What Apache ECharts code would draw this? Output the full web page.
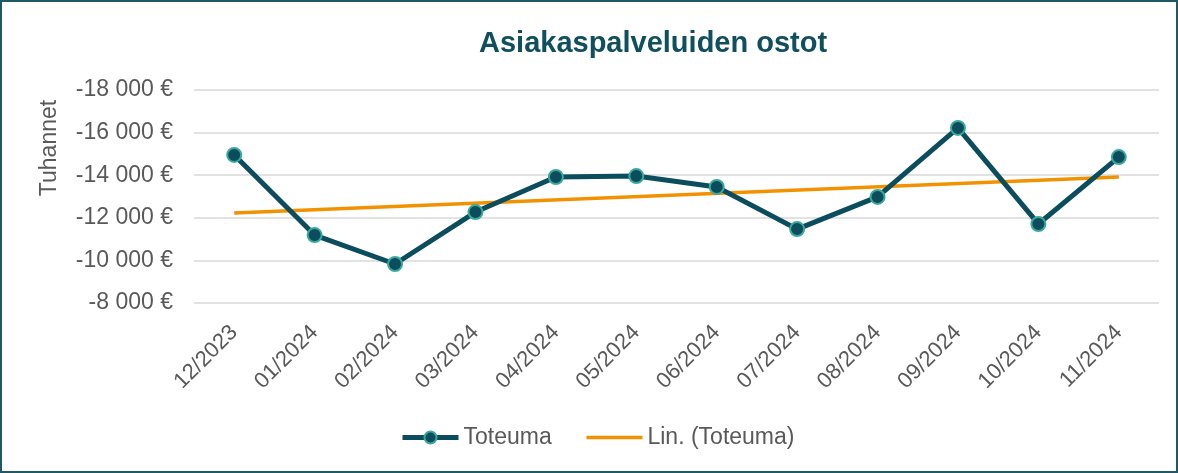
<!DOCTYPE html>
<html>
<head>
<meta charset="utf-8">
<script src="https://cdn.jsdelivr.net/npm/echarts@6/dist/echarts.min.js"></script>
<style>
html,body{margin:0;padding:0;background:#fff;}
#wrap{width:1178px;height:473px;box-sizing:border-box;border:2px solid #1f5866;}
#chart{width:1174px;height:469px;}
</style>
</head>
<body>
<div id="wrap"><div id="chart"></div></div>
<script>
const categories = ['12/2023','01/2024','02/2024','03/2024','04/2024','05/2024','06/2024','07/2024','08/2024','09/2024','10/2024','11/2024'];
const toteuma = [-14950,-11190,-9830,-12270,-13915,-13960,-13450,-11470,-12980,-16220,-11710,-14850];
const trendStart = -12225;
const trendEnd = -13915;
const yTicks = { min: -18000, max: -8000, interval: 2000 };

function fmt(v){
  const s = Math.abs(v).toString().replace(/\B(?=(\d{3})+(?!\d))/g, ' ');
  return (v < 0 ? '-' : '') + s + ' €';
}

const chart = echarts.init(document.getElementById('chart'));
const FONT = '"Liberation Sans", Arial, sans-serif';
chart.setOption({
  textStyle: { fontFamily: FONT },
  animation: false,
  title: {
    text: 'Asiakaspalveluiden ostot',
    left: 477,
    top: 27,
    padding: 0,
    textStyle: { fontFamily: FONT, fontSize: 29, fontWeight: 'bold', color: '#0f4f5e' }
  },
  graphic: [{
    type: 'text',
    x: 48, y: 146,
    rotation: Math.PI / 2,
    style: { text: 'Tuhannet', font: '23px ' + FONT, fill: '#595959', align: 'center', verticalAlign: 'middle' }
  }],
  grid: { left: 192, right: 17, top: 88, bottom: 168, containLabel: false },
  legend: {
    top: 419,
    left: 393,
    itemWidth: 56,
    itemHeight: 15,
    itemGap: 33,
    textStyle: { fontFamily: FONT, fontSize: 23, color: '#595959' },
    data: [
      { name: 'Toteuma', lineStyle: { width: 5 } },
      { name: 'Lin. (Toteuma)', lineStyle: { width: 3.5 }, itemStyle: { opacity: 0 } }
    ]
  },
  xAxis: {
    type: 'category',
    data: categories,
    boundaryGap: true,
    axisLine: { show: false },
    axisTick: { show: false },
    axisLabel: { rotate: 45, fontSize: 22, color: '#595959', margin: 26, fontFamily: FONT }
  },
  yAxis: {
    type: 'value',
    inverse: true,
    min: yTicks.min, max: yTicks.max, interval: yTicks.interval,
    axisLine: { show: false },
    axisTick: { show: false },
    axisLabel: { fontSize: 23, color: '#595959', margin: 21, formatter: fmt, fontFamily: FONT },
    splitLine: { lineStyle: { color: '#d9d9d9', width: 1.5 } }
  },
  series: [
    {
      name: 'Toteuma',
      type: 'line',
      data: toteuma,
      symbol: 'circle',
      symbolSize: 14,
      lineStyle: { color: '#0b4d5d', width: 5 },
      itemStyle: { color: '#0b4d5d', borderColor: '#3aa99b', borderWidth: 2 },
      z: 3
    },
    {
      name: 'Lin. (Toteuma)',
      type: 'line',
      data: [[categories[0], trendStart], [categories[categories.length - 1], trendEnd]],
      symbol: 'none',
      lineStyle: { color: '#f39200', width: 3.5 },
      itemStyle: { color: '#f39200' },
      z: 2
    }
  ]
});
</script>
</body>
</html>
